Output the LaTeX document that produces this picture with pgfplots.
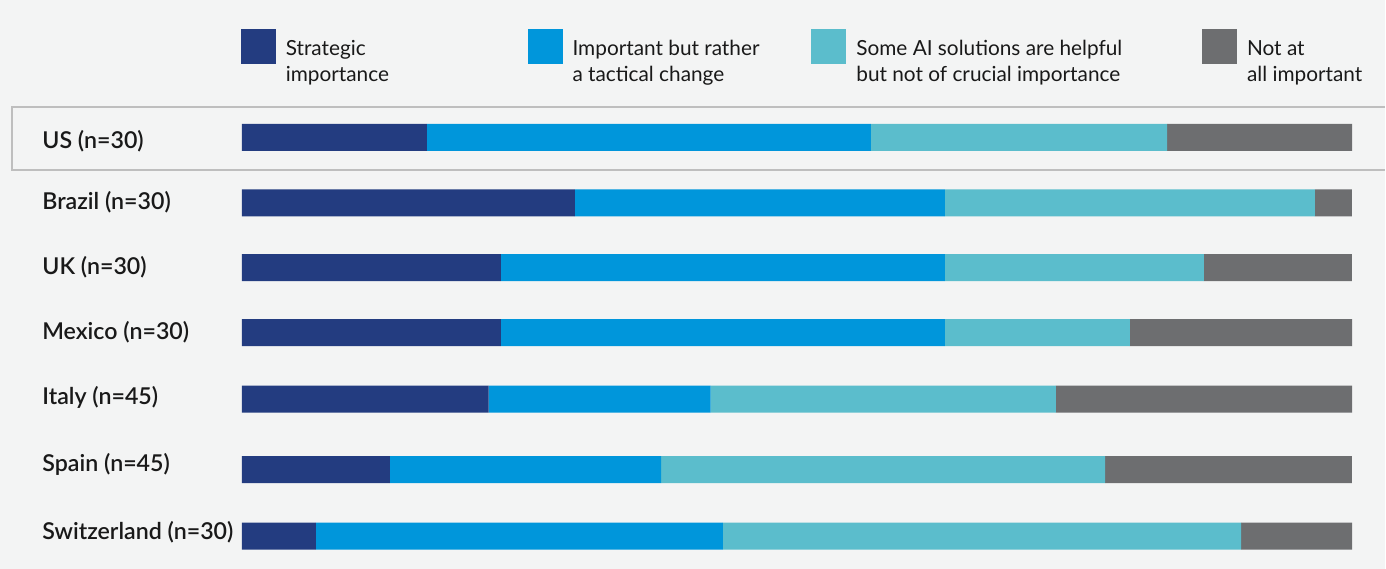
\documentclass[border=0pt]{standalone}
\usepackage{pgfplots}
\pgfplotsset{compat=1.18}
\usepackage{pgfplotstable}
\usepackage{fontspec}
\setmainfont{Lato}
\newfontfamily\labfont{Lato Semibold}
\definecolor{bg}{HTML}{F3F4F4}
\definecolor{cnavy}{HTML}{233C80}
\definecolor{cblue}{HTML}{0096DB}
\definecolor{cteal}{HTML}{5BBDCC}
\definecolor{cgray}{HTML}{6D6E70}
\definecolor{cbox}{HTML}{BEBEBE}
% pos = bar centre (px from top), values in percent of respondents
\pgfplotstableread{
pos    strat  tact   some   notat
137.5  16.67  40.00  26.67  16.67
203.0  30.00  33.33  33.33   3.33
267.8  23.33  40.00  23.33  13.33
332.8  23.33  40.00  16.67  20.00
399.5  22.22  20.00  31.11  26.67
470.0  13.33  24.44  40.00  22.22
536.5   6.67  36.67  46.67  10.00
}\datatable
\newcommand{\lfont}{\fontsize{10.4}{13}\selectfont}
\newcommand{\yfont}{\labfont\fontsize{11.6}{13}\selectfont}
\begin{document}
\begin{tikzpicture}
\begin{axis}[
  scale only axis, width=693pt, height=284.5pt,
  xmin=-21.78, xmax=102.97, ymin=0, ymax=569, y dir=reverse,
  xbar stacked, bar width=13.5pt,
  axis background/.style={fill=bg},
  axis line style={draw=none},
  major tick length=0pt, tick style={draw=none},
  xtick=\empty,
  ytick={141,202,267.3,332.5,397.8,464.5,533},
  yticklabels={US (n=30),Brazil (n=30),UK (n=30),Mexico (n=30),Italy (n=45),Spain (n=45),Switzerland (n=30)},
  yticklabel style={anchor=west, inner sep=0pt, xshift=21pt, font=\yfont, text=black!90},
  legend columns=4,
  legend style={at={(axis cs:-0.09,29.3)}, anchor=north west, draw=none, fill=none,
    inner sep=0pt, outer sep=0pt, column sep=0pt, row sep=0pt,
    nodes={inner sep=0pt, font=\lfont, text=black!90},
    /tikz/every odd column/.append style={column sep=5pt}},
  clip=false,
]
\draw[cbox, line width=1pt] (axis cs:102.97,107.3) -- (axis cs:-20.73,107.3) -- (axis cs:-20.73,170) -- (axis cs:102.97,170);
\addplot[fill=cnavy, draw=none, legend image code/.code={\fill[cnavy] (0pt,-7.6pt) rectangle (17.5pt,9.9pt);}] table[x=strat, y=pos] {\datatable};
\addlegendentry{\parbox[t]{121pt}{Strategic\\importance}}
\addplot[fill=cblue, draw=none, legend image code/.code={\fill[cblue] (0pt,-7.6pt) rectangle (17.5pt,9.9pt);}] table[x=tact, y=pos] {\datatable};
\addlegendentry{\parbox[t]{119.5pt}{Important but rather\\a tactical change}}
\addplot[fill=cteal, draw=none, legend image code/.code={\fill[cteal] (0pt,-7.6pt) rectangle (17.5pt,9.9pt);}] table[x=some, y=pos] {\datatable};
\addlegendentry{\parbox[t]{173pt}{Some AI solutions are helpful\\but not of crucial importance}}
\addplot[fill=cgray, draw=none, legend image code/.code={\fill[cgray] (0pt,-7.6pt) rectangle (17.5pt,9.9pt);}] table[x=notat, y=pos] {\datatable};
\addlegendentry{\parbox[t]{60pt}{Not at\\all important}}
\end{axis}
\end{tikzpicture}
\end{document}
